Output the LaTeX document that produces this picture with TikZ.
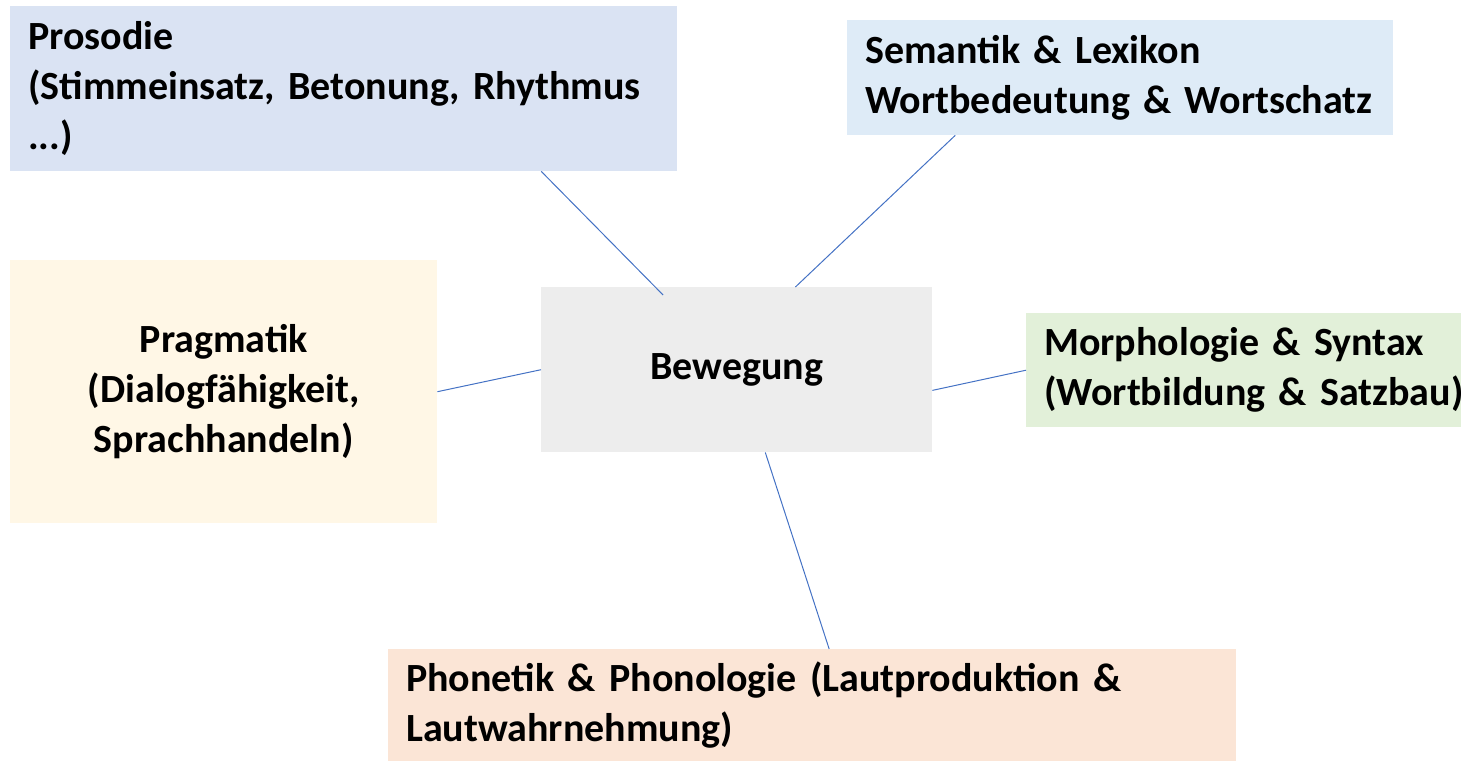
\documentclass[tikz,border=0pt]{standalone}
\usepackage{fontspec}
\setmainfont{Carlito}
\usetikzlibrary{calc}
\definecolor{prosodieblue}{HTML}{DAE3F3}
\definecolor{semantikblue}{HTML}{DEEBF7}
\definecolor{centergrey}{HTML}{EDEDED}
\definecolor{pragmatikyellow}{HTML}{FFF7E6}
\definecolor{morphgreen}{HTML}{E2F0D9}
\definecolor{phonetikrose}{HTML}{FBE5D6}
\definecolor{linkblue}{HTML}{4472C4}
\begin{document}
\begin{tikzpicture}[
		x=1pt,
		y=-1pt,
		box/.style={anchor=north west,inner xsep=18pt,inner ysep=0pt,
			font=\fontsize{40}{50}\selectfont\bfseries},
		leftbox/.style={box,align=left},
		link/.style={draw=linkblue,line width=1pt}
		]
		\useasboundingbox (0,0) rectangle (1461,761);
		\node[leftbox,fill=prosodieblue,text width=631pt,minimum height=165pt] (prosodie) at (10,6)
			{Prosodie\\(Stimmeinsatz, Betonung, Rhythmus\\...)};
		\node[leftbox,fill=semantikblue,text width=510pt,minimum height=115pt] (semantik) at (847,20)
			{Semantik \& Lexikon\\Wortbedeutung \& Wortschatz};
		\node[box,fill=centergrey,minimum width=391pt,minimum height=165pt,inner xsep=0pt] (bewegung) at (541,287)
			{Bewegung};
		\node[box,align=center,fill=pragmatikyellow,text width=391pt,minimum height=263pt] (pragmatik) at (10,260)
			{Pragmatik\\(Dialogfähigkeit,\\Sprachhandeln)};
		\node[leftbox,fill=morphgreen,text width=399pt,minimum height=114pt] (morph) at (1026,313)
			{Morphologie \& Syntax\\\mbox{(Wortbildung \& Satzbau)}};
		\node[leftbox,fill=phonetikrose,text width=812pt,minimum height=112pt] (phonetik) at (388,649)
			{Phonetik \& Phonologie (Lautproduktion \&\\Lautwahrnehmung)};
		\begin{scope}[link]
		\draw ($(prosodie.south west)!0.796!(prosodie.south east)$) -- ($(bewegung.north west)!0.312!(bewegung.north east)+(0,8)$);
		\draw ($(semantik.south west)!0.198!(semantik.south east)$) -- ($(bewegung.north west)!0.65!(bewegung.north east)$);
		\draw (pragmatik.east) -- (bewegung.west);
		\draw ($(bewegung.east)!0.25!(bewegung.south east)$) -- (morph.west);
		\draw ($(bewegung.south west)!0.573!(bewegung.south east)$) -- ($(phonetik.north west)!0.52!(phonetik.north east)$);
		\end{scope}
	\end{tikzpicture}
\end{document}
